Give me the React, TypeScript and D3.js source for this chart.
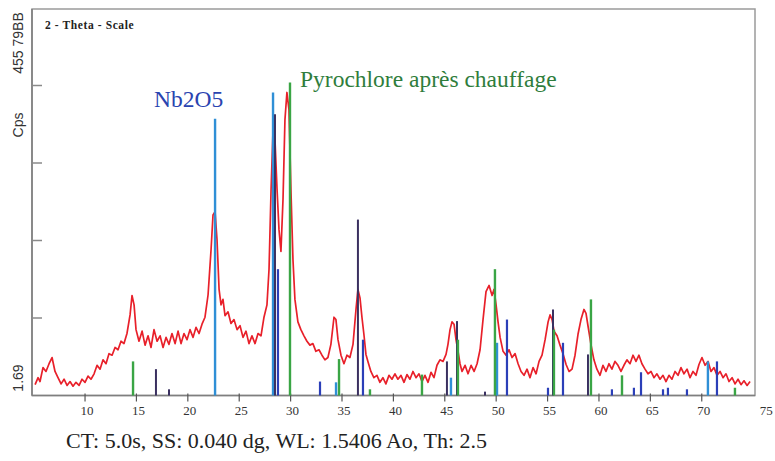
import React from 'react';
import * as d3 from 'd3';

// Measured scan (2-theta in degrees, counts in arbitrary units)
const scanAngle = [
  5.14,5.43,5.62,5.91,6.2,6.5,6.79,7.08,7.37,7.67,
  7.96,8.25,8.54,8.83,9.12,9.42,9.71,10.0,10.29,10.58,
  10.88,11.17,11.46,11.75,12.04,12.33,12.63,12.92,13.21,13.5,
  13.79,14.08,14.38,14.57,14.77,14.96,15.25,15.55,15.84,16.13,
  16.42,16.71,17.01,17.3,17.59,17.88,18.17,18.46,18.76,19.05,
  19.34,19.63,19.92,20.21,20.51,20.8,21.09,21.38,21.67,21.97,
  22.26,22.45,22.65,22.84,23.04,23.23,23.42,23.62,23.91,24.2,
  24.49,24.79,25.08,25.37,25.66,25.95,26.24,26.54,26.83,27.12,
  27.41,27.7,27.9,28.1,28.29,28.48,28.68,28.87,29.06,29.26,
  29.45,29.64,29.84,30.03,30.23,30.42,30.71,31.0,31.3,31.59,
  31.88,32.17,32.46,32.76,33.05,33.34,33.63,33.92,34.22,34.41,
  34.61,34.9,35.19,35.48,35.77,36.07,36.36,36.55,36.75,36.94,
  37.13,37.33,37.52,37.81,38.1,38.4,38.69,38.98,39.27,39.57,
  39.86,40.15,40.44,40.74,41.03,41.32,41.61,41.9,42.2,42.49,
  42.78,43.07,43.37,43.66,43.95,44.24,44.53,44.83,45.12,45.31,
  45.51,45.7,45.9,46.09,46.29,46.48,46.68,46.97,47.26,47.56,
  47.85,48.14,48.43,48.72,49.01,49.31,49.6,49.79,49.99,50.18,
  50.38,50.67,50.96,51.25,51.54,51.84,52.13,52.42,52.71,53.0,
  53.29,53.59,53.88,54.17,54.46,54.76,55.05,55.24,55.44,55.63,
  55.92,56.21,56.5,56.8,57.09,57.38,57.67,57.96,58.25,58.54,
  58.74,58.93,59.22,59.51,59.8,60.1,60.39,60.68,60.97,61.26,
  61.56,61.85,62.14,62.43,62.72,63.02,63.31,63.6,63.89,64.18,
  64.48,64.77,65.06,65.35,65.64,65.94,66.23,66.52,66.81,67.1,
  67.4,67.69,67.98,68.27,68.57,68.86,69.15,69.44,69.73,70.02,
  70.32,70.61,70.9,71.19,71.49,71.78,72.07,72.36,72.65,72.95,
  73.24,73.53,73.82,74.11,74.41,74.7,
];
const scanCounts = [
  14,23,18,36,31,41,49,31,23,15,
  21,13,18,12,17,13,21,17,25,21,
  28,39,34,46,41,54,52,62,59,70,
  67,80,104,129,117,85,70,83,65,77,
  62,85,70,77,62,75,66,80,67,83,
  67,80,72,85,75,88,80,92,101,130,
  188,233,237,201,137,117,124,103,108,93,
  98,85,90,75,83,67,77,67,80,77,
  101,117,163,266,343,330,266,214,186,253,
  356,391,369,266,175,124,95,85,77,70,
  65,67,57,59,52,46,49,66,101,98,
  72,52,41,52,49,66,111,137,126,101,
  79,53,44,31,23,26,17,23,15,26,
  21,28,21,26,17,27,21,31,23,28,
  18,26,17,30,23,39,46,44,53,66,
  85,95,92,72,57,41,31,39,28,39,
  31,41,59,98,134,142,129,137,117,95,
  75,57,52,59,49,54,41,31,26,34,
  23,36,28,44,52,72,95,104,98,83,
  77,65,54,40,31,34,52,79,98,111,
  106,90,66,46,34,26,39,31,41,34,
  44,39,31,39,46,41,52,44,52,41,
  34,28,31,23,28,21,26,18,26,21,
  31,26,36,28,34,23,31,26,40,49,
  39,44,31,36,26,31,23,28,18,23,
  15,21,14,19,13,18,
];

// Reference stick patterns
const pyrochloreAngle = [14.67, 29.94, 34.71, 37.72, 42.78, 46.28, 49.88, 55.62, 59.22, 62.24, 73.23];
const pyrochloreInt   = [44, 404, 47, 8, 27, 72, 163, 85, 124, 26, 10];
const nb2o5Angle = [22.65, 28.29, 34.42, 45.6, 50.08, 70.6];
const nb2o5Int   = [357, 391, 17, 23, 68, 44];
const phaseBlueAngle = [28.77, 32.86, 37.04, 51.05, 55.04, 56.5, 61.26, 63.4, 64.09, 66.23, 66.71, 68.56, 71.48];
const phaseBlueInt   = [163, 18, 72, 98, 10, 68, 8, 10, 30, 8, 10, 8, 44];
const phaseDarkAngle = [16.9, 18.17, 28.48, 36.55, 45.21, 46.19, 48.91, 55.53, 58.93];
const phaseDarkInt   = [34, 8, 363, 227, 44, 96, 5, 111, 53];

const xTickValues = [10, 15, 20, 25, 30, 35, 40, 45, 50, 55, 60, 65, 70, 75];
const yTickValues = [100, 200, 300, 400];
const yAxisTexts = ['455 79BB', 'Cps', '1.69'];
const titleText = '2 - Theta - Scale';
const nbLabel = 'Nb2O5';
const pyroLabel = 'Pyrochlore après chauffage';
const footerText = 'CT: 5.0s, SS: 0.040 dg, WL: 1.5406 Ao, Th: 2.5';

const W = 775;
const H = 461;
const L = 32, R = 755, T = 9, B = 395.5;

const SERIF = 'Liberation Serif, DejaVu Serif, Tinos, Times New Roman, serif';
const SANS = 'Liberation Sans, Arial, DejaVu Sans, sans-serif';

export default function App() {
  const x = d3.scaleLinear().domain([4.84, 75.18]).range([L, R]);
  const y = d3.scaleLinear().domain([0, 500]).range([B, T - 1]);

  const scan = d3.zip(scanAngle, scanCounts) as [number, number][];
  const line = d3.line<[number, number]>().x(d => x(d[0])).y(d => y(d[1]));

  const sticks = (angles: number[], ints: number[], color: string, w: number, key: string) =>
    angles.map((a, i) => (
      <line key={key + i} x1={x(a)} x2={x(a)} y1={y(0)} y2={y(ints[i])} stroke={color} strokeWidth={w} />
    ));

  const serifStyle = { fontFamily: SERIF };
  const sansStyle = { fontFamily: SANS };

  return (
    <svg width={W} height={H} style={{ position: 'absolute', left: 0, top: 0, background: '#fff' }}>
      <rect x={0} y={0} width={W} height={H} fill="#fff" />
      {/* frame */}
      <rect x={L} y={T} width={R - L} height={B - T} fill="none" stroke="#9a9a9a" strokeWidth={1.5} />
      <line x1={L} x2={L} y1={T} y2={B} stroke="#7f7f7f" strokeWidth={1.6} />
      <line x1={L} x2={R} y1={B} y2={B} stroke="#7f7f7f" strokeWidth={1.6} />

      {/* y ticks */}
      {yTickValues.map(v => (
        <line key={'yt' + v} x1={L} x2={L + 10} y1={y(v)} y2={y(v)} stroke="#8a8a8a" strokeWidth={1.5} />
      ))}
      {/* x ticks */}
      {xTickValues.filter(v => v < 75).map(v => (
        <line key={'xt' + v} x1={x(v)} x2={x(v)} y1={B - 2} y2={B + 6} stroke="#555" strokeWidth={1.2} />
      ))}
      {xTickValues.map(v => (
        <text key={'xl' + v} x={x(v) + (v === 75 ? 13 : 2)} y={415} textAnchor="middle"
          style={serifStyle} fontSize={13} fill="#333">{v}</text>
      ))}

      {/* scan */}
      <path d={line(scan) || ''} fill="none" stroke="#e8202a" strokeWidth={1.7} strokeLinejoin="round" />

      {/* sticks */}
      {sticks(nb2o5Angle, nb2o5Int, '#2f8fd6', 2.4, 'nb')}
      {sticks(phaseBlueAngle, phaseBlueInt, '#2b3fb8', 2.2, 'pb')}
      {sticks(phaseDarkAngle, phaseDarkInt, '#3a3060', 2, 'pd')}
      {sticks(pyrochloreAngle, pyrochloreInt, '#3aa545', 2.4, 'py')}

      {/* texts */}
      <text x={45} y={29} style={serifStyle} fontSize={11.5} fontWeight="bold" letterSpacing={0.6} fill="#222">{titleText}</text>
      <text x={154} y={107} style={serifStyle} fontSize={23.5} fill="#2a44b0">{nbLabel}</text>
      <text x={300} y={87} style={serifStyle} fontSize={23.5} fill="#2f7d3c">{pyroLabel}</text>

      <text transform={`translate(23,43) rotate(-90)`} textAnchor="middle" style={sansStyle} fontSize={14} fill="#333">{yAxisTexts[0]}</text>
      <text transform={`translate(23,125) rotate(-90)`} textAnchor="middle" style={sansStyle} fontSize={14} fill="#333">{yAxisTexts[1]}</text>
      <text transform={`translate(23,378) rotate(-90)`} textAnchor="middle" style={sansStyle} fontSize={14} fill="#333">{yAxisTexts[2]}</text>

      <text x={66} y={448} style={serifStyle} fontSize={22} fill="#222">{footerText}</text>
    </svg>
  );
}
